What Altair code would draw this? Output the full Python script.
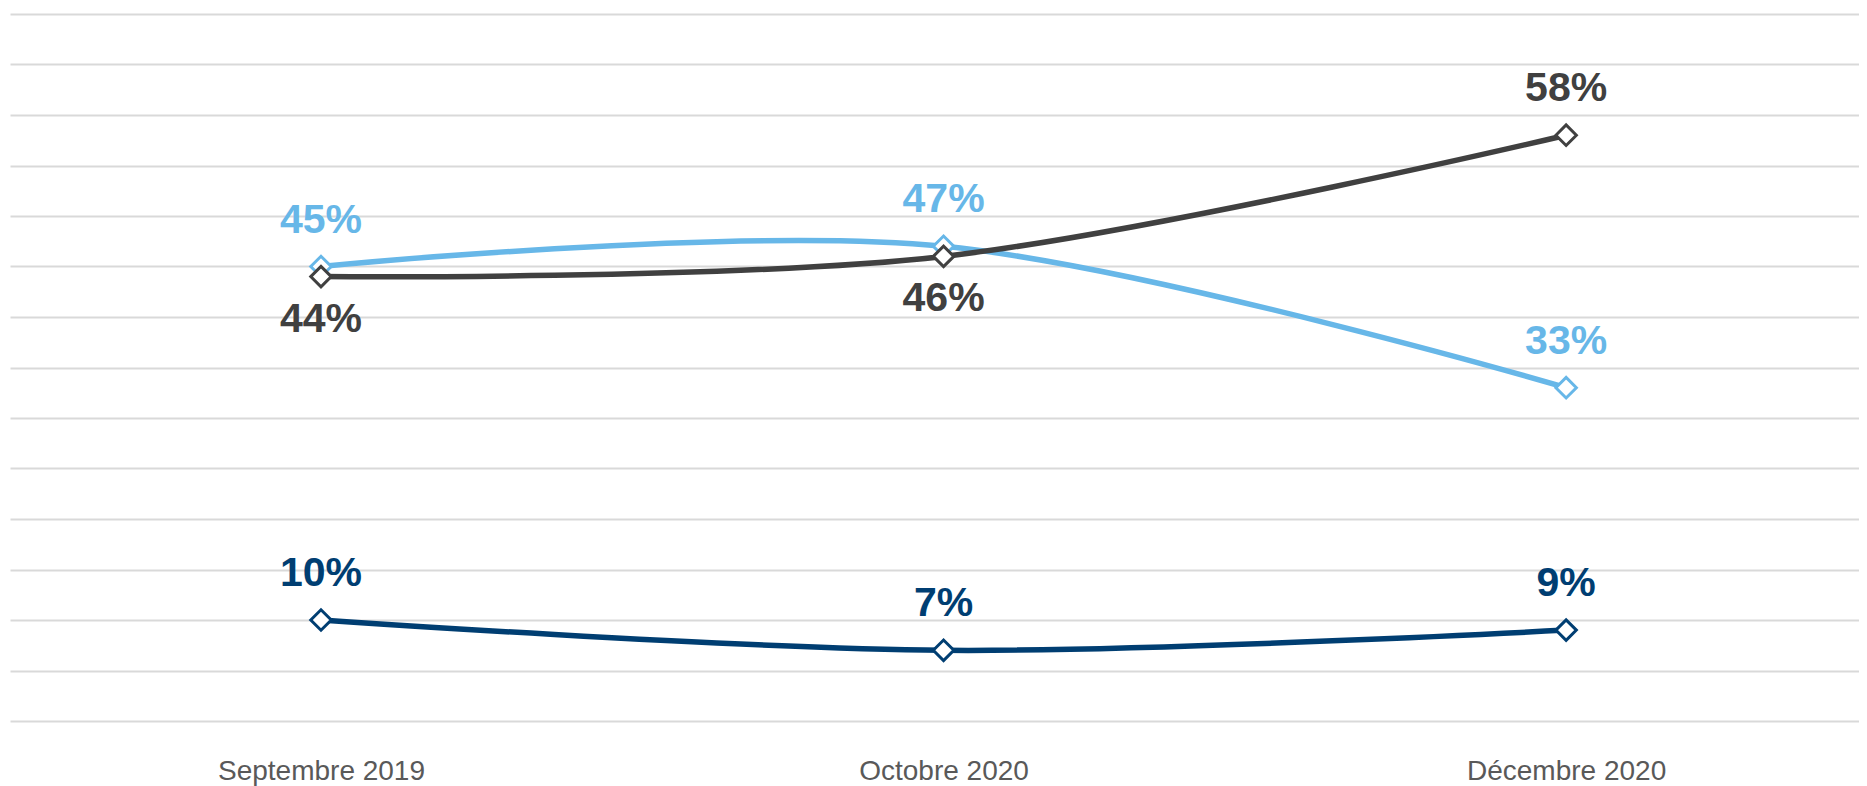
import altair as alt
import pandas as pd

categories = ["Septembre 2019", "Octobre 2020", "Décembre 2020"]
series_names = ["Série A", "Série B", "Série C"]
serie_a = [45, 47, 33]   # light blue
serie_b = [44, 46, 58]   # dark grey
serie_c = [10, 7, 9]     # navy
colors = ["#67B7E8", "#404040", "#003E72"]
# labels drawn below their point (others are above)
labels_below = [("Série B", "Septembre 2019"), ("Série B", "Octobre 2020")]

rows = []
for name, vals in zip(series_names, [serie_a, serie_b, serie_c]):
    for cat, v in zip(categories, vals):
        rows.append({"serie": name, "periode": cat, "valeur": v,
                     "label": f"{v}%",
                     "below": (name, cat) in labels_below})
df = pd.DataFrame(rows)

W = 1849
H = 707

x = alt.X("periode:N", sort=categories, title=None,
          scale=alt.Scale(type="point", padding=0.485, align=0.515),
          axis=alt.Axis(labelAngle=0, ticks=False, domain=False, grid=False,
                        labelFont="Liberation Sans", labelFontSize=28, labelLimit=0,
                        labelColor="#595959", labelPadding=36))
y = alt.Y("valeur:Q", title=None,
          scale=alt.Scale(domain=[0, 70], nice=False, zero=True),
          axis=alt.Axis(values=list(range(0, 75, 5)), labels=False, ticks=False,
                        domain=False, grid=True, gridColor="#D9D9D9", gridWidth=2))
color = alt.Color("serie:N", scale=alt.Scale(domain=series_names, range=colors), legend=None)

base = alt.Chart(df)

lines = base.mark_line(interpolate="cardinal", strokeWidth=5.5).encode(
    x=x, y=y, color=color, detail="serie:N")

points = base.mark_point(shape="diamond", filled=True, fill="white", size=420,
                         strokeWidth=3, opacity=1).encode(
    x=x, y=y, stroke=alt.Stroke("serie:N", scale=alt.Scale(domain=series_names, range=colors), legend=None))

text_above = base.transform_filter("!datum.below").mark_text(
    font="Liberation Sans", fontWeight="bold", fontSize=41, baseline="alphabetic",
    align="center", dy=-34).encode(x=x, y=y, text="label:N", color=color)

text_below = base.transform_filter("datum.below").mark_text(
    font="Liberation Sans", fontWeight="bold", fontSize=41, baseline="alphabetic",
    align="center", dy=55).encode(x=x, y=y, text="label:N", color=color)

chart = alt.layer(lines, points, text_above, text_below).properties(
    width=W, height=H,
    autosize=alt.AutoSizeParams(type="none"),
    padding={"left": 2, "top": 6, "right": 0, "bottom": 70},
    background="white",
).configure_view(stroke=None)

chart.save("out.html", embed_options={"renderer": "svg", "actions": False})
